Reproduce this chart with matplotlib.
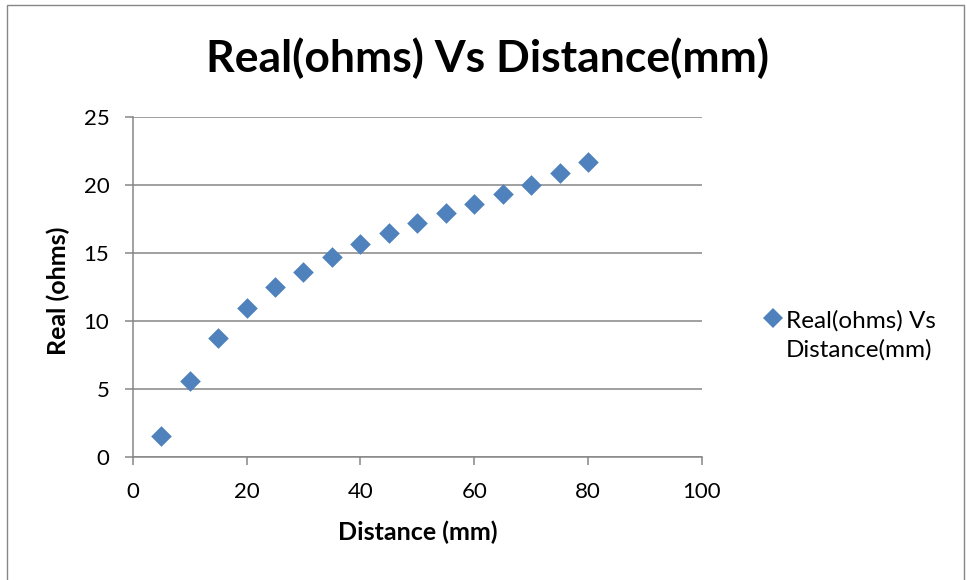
import matplotlib
matplotlib.use("Agg")
import matplotlib.pyplot as plt
from matplotlib.lines import Line2D
from matplotlib.patches import Rectangle

# Measured resistance (real part) against probe distance
distance_mm = [5, 10, 15, 20, 25, 30, 35, 40, 45, 50, 55, 60, 65, 70, 75, 80]
real_ohms = [1.56, 5.62, 8.78, 10.96, 12.5, 13.6, 14.73, 15.64, 16.49, 17.18,
             17.91, 18.58, 19.31, 20.01, 20.85, 21.70]

x_ticks = [0, 20, 40, 60, 80, 100]
y_ticks = [0, 5, 10, 15, 20, 25]

title = "Real(ohms) Vs Distance(mm)"
series_label = "Real(ohms) Vs\nDistance(mm)"
x_label = "Distance (mm)"
y_label = "Real (ohms)"

BLUE = "#4F81BD"
GRID = "#868686"
FONT = "Lato"

plt.rcParams["font.family"] = [FONT, "DejaVu Sans"]

W, H = 967, 580
fig = plt.figure(figsize=(W / 100, H / 100), dpi=100)
fig.patch.set_facecolor("white")

# chart frame
fig.add_artist(Rectangle((7 / W, -0.01), (964 - 7) / W, 1.01 - 5.5 / H,
                         transform=fig.transFigure, fill=False,
                         edgecolor=GRID, linewidth=1.0))

ax = fig.add_axes([132.7 / W, 1 - 457.3 / H, (702 - 132.7) / W, (457.3 - 116.7) / H])
ax.scatter(distance_mm, real_ohms, marker="D", s=10.5 ** 2, color=BLUE,
           linewidths=0, zorder=3, clip_on=False)

ax.set_xlim(0, 100)
ax.set_ylim(0, 25)
ax.set_xticks(x_ticks)
ax.set_yticks(y_ticks)
ax.set_xticklabels([str(v) for v in x_ticks])
ax.set_yticklabels([str(v) for v in y_ticks])

ax.yaxis.grid(True, color=GRID, linewidth=1.1)
ax.set_axisbelow(True)
for side in ("top", "right"):
    ax.spines[side].set_visible(False)
for side in ("left", "bottom"):
    ax.spines[side].set_color(GRID)
    ax.spines[side].set_linewidth(1.1)

ax.tick_params(axis="both", direction="out", length=5.8, width=1.1, color=GRID,
               labelsize=16, labelcolor="black")
ax.tick_params(axis="x", pad=12)
ax.tick_params(axis="y", pad=11)

ax.set_xlabel(x_label, fontsize=18, fontweight="bold", va="center")
ax.set_ylabel(y_label, fontsize=18, fontweight="bold", va="center")
ax.xaxis.set_label_coords(0.5005, (457.3 - 532) / 340.6)
ax.yaxis.set_label_coords((58 - 132.7) / 569.3, 0.49)

fig.text(487 / W, 1 - 58 / H, title, ha="center", va="center",
         fontsize=32, fontweight="bold")

# legend key
fig.add_artist(Line2D([773 / W], [1 - 318 / H], transform=fig.transFigure,
                      marker="D", markersize=10.5, color=BLUE, markeredgewidth=0,
                      linestyle="none"))
fig.text(786 / W, 1 - 335 / H, series_label, ha="left", va="center",
         fontsize=17.5, linespacing=1.42)

fig.savefig("out.png", dpi=100, facecolor="white")
